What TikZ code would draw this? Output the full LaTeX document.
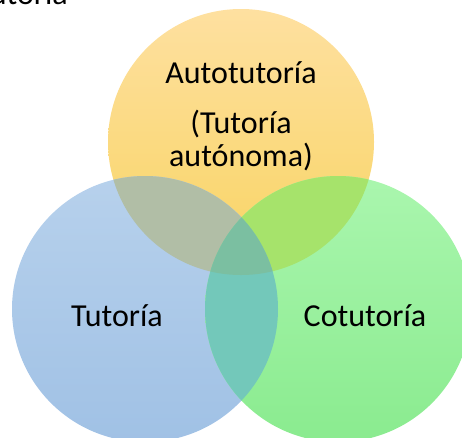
\documentclass[tikz,border=0pt]{standalone}
\usepackage{fontspec}
\setmainfont{Carlito}
\usepackage{tikz}
\usetikzlibrary{positioning}
\definecolor{autotop}{HTML}{FEE0A0}
\definecolor{autobot}{HTML}{F8D462}
\definecolor{tuttop}{HTML}{B7D1EC}
\definecolor{tutbot}{HTML}{A0C1E5}
\definecolor{cottop}{HTML}{AAF6AE}
\definecolor{cotbot}{HTML}{8AEB8F}
\definecolor{autotut}{HTML}{B1BEA6}
\definecolor{autocot}{HTML}{A6E36B}
\definecolor{tutcot}{HTML}{73C8BA}
\definecolor{allthree}{HTML}{7BBFA1}
\tikzset{
  lbl/.style={font=\fontsize{32}{38}\selectfont, inner sep=0pt, anchor=base},
}

\begin{document}
\begin{tikzpicture}[x=1pt, y=1pt]
   \useasboundingbox (0, 0) rectangle (462, -437);
   \coordinate (a) at (241, -142);
   \coordinate (t) at (145, -309);
   \coordinate (c) at (338, -309);

   % circles
   \shade[top color=autotop, bottom color=autobot] (a) circle[radius=133];
   \shade[top color=tuttop, bottom color=tutbot] (t) circle[radius=133];
   \shade[top color=cottop, bottom color=cotbot] (c) circle[radius=133];

   % overlaps
   \begin{scope}
      \clip (a) circle[radius=133];
      \fill[autotut] (t) circle[radius=133];
      \fill[autocot] (c) circle[radius=133];
   \end{scope}
   \begin{scope}
      \clip (t) circle[radius=133];
      \fill[tutcot] (c) circle[radius=133];
      \clip (c) circle[radius=133];
      \fill[allthree] (a) circle[radius=133];
   \end{scope}

   \node[lbl] (title) at (68, -4) [anchor=base east] {utoría};
   \node[lbl] (auto) at (241, -83) {Autotutoría};
   \node[lbl] (autodesc) at (241, -133) {(Tutoría};
   \node[lbl] (autodesc2) at (241, -166) {autónoma)};
   \node[lbl] (tut) at (117, -326) {Tutoría};
   \node[lbl] (cot) at (365, -326) {Cotutoría};
\end{tikzpicture}
\end{document}
